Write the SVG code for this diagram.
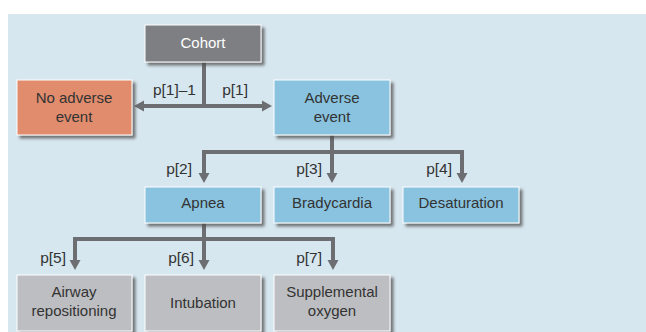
<svg xmlns="http://www.w3.org/2000/svg" width="646" height="332" viewBox="0 0 646 332">
<defs>
<filter id="sh" x="-10%" y="-10%" width="130%" height="140%">
<feDropShadow dx="3" dy="3" stdDeviation="1.5" flood-color="#4a4a4c" flood-opacity="0.75"/>
</filter>
<marker id="ah" markerUnits="userSpaceOnUse" markerWidth="12" markerHeight="12" refX="0" refY="6" orient="auto">
<path d="M0,0.5 L10,6 L0,11.5 Z" fill="#6d6e71"/>
</marker>
</defs>
<style>
.box{stroke:#ffffff;stroke-width:1;filter:url(#sh)}
.gray{fill:#7e7f83}
.orange{fill:#e08c6d}
.blue{fill:#89c3df}
.light{fill:#bdbec1}
.t{font-family:"Liberation Sans",Arial,sans-serif;font-size:15px;fill:#333333;text-anchor:middle}
.w{fill:#ffffff}
.lbl{font-family:"Liberation Sans",Arial,sans-serif;font-size:15.5px;fill:#333333;text-anchor:end}
.c{fill:none;stroke:#6d6e71;stroke-width:4}
</style>
<rect x="0" y="0" width="646" height="332" fill="#ffffff"/>
<rect x="8" y="14" width="638" height="318" fill="#d7e7f0"/>
<g id="connectors">
<path class="c" d="M204 62 V106"/>
<path class="c" d="M204 106 H144" marker-end="url(#ah)"/>
<path class="c" d="M204 106 H262" marker-end="url(#ah)"/>
<path class="c" d="M332 135 V152"/>
<path class="c" d="M204 173 V152 H462 V173" marker-end="url(#ah)"/>
<path class="c" d="M332 152 V173" marker-end="url(#ah)"/>
<path class="c" d="M204 152 V173" marker-end="url(#ah)"/>
<path class="c" d="M204 223 V239"/>
<path class="c" d="M75 260 V239 H333 V260" marker-end="url(#ah)"/>
<path class="c" d="M75 239 V260" marker-end="url(#ah)"/>
<path class="c" d="M204 239 V260" marker-end="url(#ah)"/>
<text class="lbl" x="196" y="95">p[1]–1</text>
<text class="lbl" x="248" y="95">p[1]</text>
<text class="lbl" x="192" y="174">p[2]</text>
<text class="lbl" x="322" y="174">p[3]</text>
<text class="lbl" x="452" y="174">p[4]</text>
<text class="lbl" x="66" y="263">p[5]</text>
<text class="lbl" x="194" y="263">p[6]</text>
<text class="lbl" x="322" y="263">p[7]</text>
</g>
<g id="cohort"><rect class="box gray" x="145" y="25" width="116" height="37"/><text class="t w" x="203" y="48">Cohort</text></g>
<g id="no-adverse"><rect class="box orange" x="17" y="80" width="115" height="55"/><text class="t" x="74" y="103">No adverse</text><text class="t" x="74" y="122">event</text></g>
<g id="adverse"><rect class="box blue" x="274" y="80" width="116" height="55"/><text class="t" x="332" y="103">Adverse</text><text class="t" x="332" y="122">event</text></g>
<g id="apnea"><rect class="box blue" x="145" y="187" width="116" height="36"/><text class="t" x="203" y="208">Apnea</text></g>
<g id="bradycardia"><rect class="box blue" x="274" y="187" width="116" height="36"/><text class="t" x="332" y="208">Bradycardia</text></g>
<g id="desaturation"><rect class="box blue" x="403" y="187" width="116" height="36"/><text class="t" x="461" y="208">Desaturation</text></g>
<g id="airway"><rect class="box light" x="17" y="275" width="115" height="56"/><text class="t" x="74" y="297">Airway</text><text class="t" x="74" y="316">repositioning</text></g>
<g id="intubation"><rect class="box light" x="145" y="275" width="116" height="56"/><text class="t" x="203" y="308">Intubation</text></g>
<g id="oxygen"><rect class="box light" x="274" y="275" width="116" height="56"/><text class="t" x="332" y="297">Supplemental</text><text class="t" x="332" y="316">oxygen</text></g>
</svg>
